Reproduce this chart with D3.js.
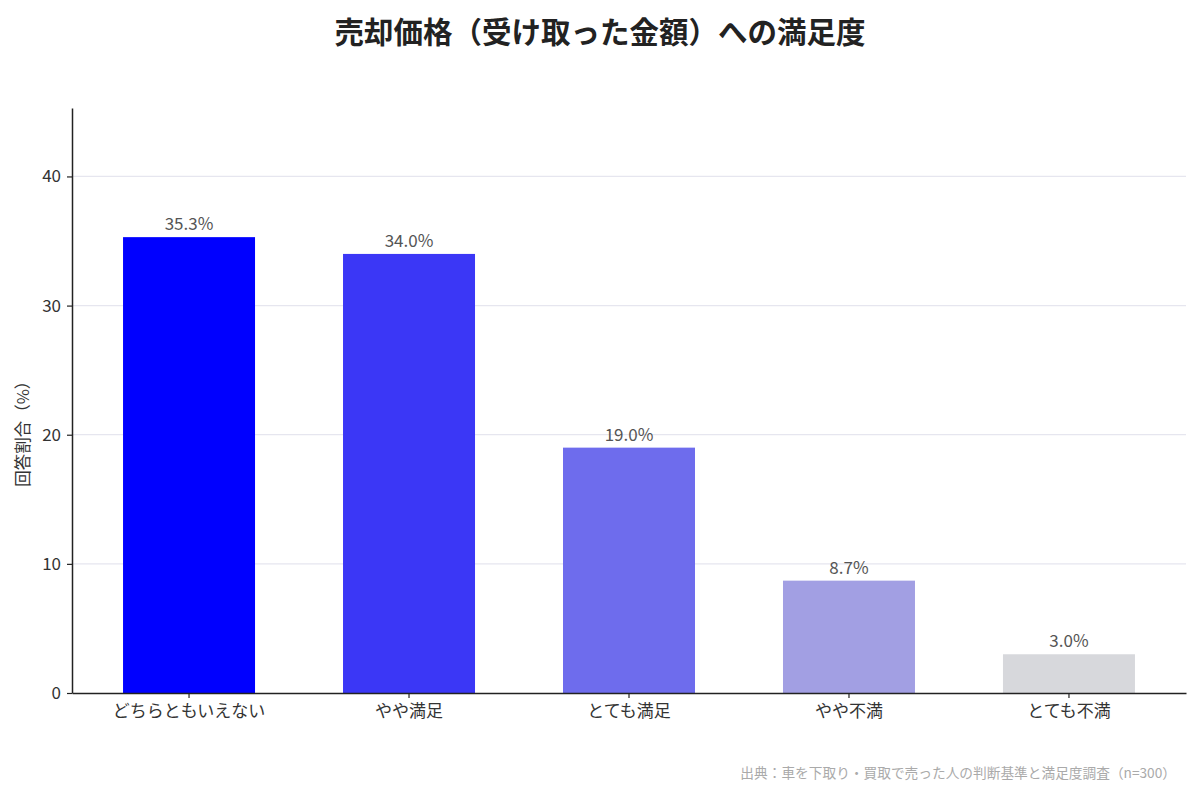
<!DOCTYPE html>
<html>
<head>
<meta charset="utf-8">
<script src="https://cdn.jsdelivr.net/npm/d3@7"></script>
<style>
  body { margin: 0; background: #fff; }
  text { font-family: "Noto Sans CJK JP", "Noto Sans", sans-serif; }
</style>
</head>
<body>
<div class="canvas"></div>
<script>
// data
const categories = ['どちらともいえない', 'やや満足', 'とても満足', 'やや不満', 'とても不満']
const values = [35.3, 34.0, 19.0, 8.7, 3.0]
const barColors = ['#0000ff', '#3b37f6', '#6e6ced', '#a29fe3', '#d7d8dc']
const yTicks = [0, 10, 20, 30, 40]

const title = '売却価格（受け取った金額）への満足度'
const yLabel = '回答割合（%）'
const source = '出典：車を下取り・買取で売った人の判断基準と満足度調査（n=300）'

const svg = d3.select('.canvas')
  .append('svg')
  .attr('width', 1200)
  .attr('height', 800)

// margins / dimensions
const margin = {top: 108, right: 14, bottom: 107, left: 72}
const graphWidth = 1200 - margin.left - margin.right
const graphHeight = 800 - margin.top - margin.bottom

const graph = svg.append('g')
  .attr('transform', `translate(${margin.left}, ${margin.top})`)

const x = d3.scaleBand()
  .domain(categories)
  .range([0, graphWidth])
  .paddingInner(0.4)
  .paddingOuter(0.232)

const y = d3.scaleLinear()
  .domain([0, 45.3])
  .range([graphHeight, 0])

// grid lines
graph.append('g')
  .selectAll('line')
  .data(yTicks.filter(d => d > 0))
  .enter().append('line')
    .attr('x1', 0)
    .attr('x2', graphWidth)
    .attr('y1', d => y(d))
    .attr('y2', d => y(d))
    .attr('stroke', '#e6e6ef')
    .attr('stroke-width', 1.2)

// bars
const data = categories.map((c, i) => ({name: c, value: values[i], color: barColors[i]}))

graph.selectAll('rect')
  .data(data)
  .enter().append('rect')
    .attr('x', d => x(d.name))
    .attr('y', d => y(d.value))
    .attr('width', x.bandwidth())
    .attr('height', d => graphHeight - y(d.value))
    .attr('fill', d => d.color)

// value labels
graph.selectAll('.val')
  .data(data)
  .enter().append('text')
    .attr('class', 'val')
    .attr('x', d => x(d.name) + x.bandwidth() / 2)
    .attr('y', d => y(d.value) - 7)
    .attr('text-anchor', 'middle')
    .attr('font-size', 17)
    .attr('fill', '#555')
    .text(d => d.value.toFixed(1) + '%')

// axes
const xAxisGroup = graph.append('g').attr('transform', `translate(0, ${graphHeight})`)
const yAxisGroup = graph.append('g')

const xAxis = d3.axisBottom(x).tickSize(5).tickSizeOuter(0).tickPadding(7)
const yAxis = d3.axisLeft(y).tickValues(yTicks).tickSize(5).tickSizeOuter(0).tickPadding(6)

xAxisGroup.call(xAxis)
yAxisGroup.call(yAxis)

xAxisGroup.select('.domain').attr('stroke', '#222').attr('stroke-width', 1.5)
yAxisGroup.select('.domain').attr('stroke', '#222').attr('stroke-width', 1.5)
graph.selectAll('.tick line').attr('stroke', '#222').attr('stroke-width', 1.2)
graph.selectAll('.tick text')
  .attr('font-size', 17)
  .attr('fill', '#333')
  .style('font-family', '"Noto Sans CJK JP", sans-serif')

// title
svg.append('text')
  .attr('x', 600)
  .attr('y', 43)
  .attr('text-anchor', 'middle')
  .attr('font-size', 29.5)
  .attr('font-weight', 'bold')
  .attr('fill', '#222')
  .text(title)

// y axis label
svg.append('text')
  .attr('transform', `translate(29, ${margin.top + graphHeight * 0.55}) rotate(-90)`)
  .attr('text-anchor', 'middle')
  .attr('font-size', 16.5)
  .attr('fill', '#333')
  .text(yLabel)

// source
svg.append('text')
  .attr('x', 1176)
  .attr('y', 778)
  .attr('text-anchor', 'end')
  .attr('font-size', 13.7)
  .attr('fill', '#aaa')
  .text(source)
</script>
</body>
</html>
